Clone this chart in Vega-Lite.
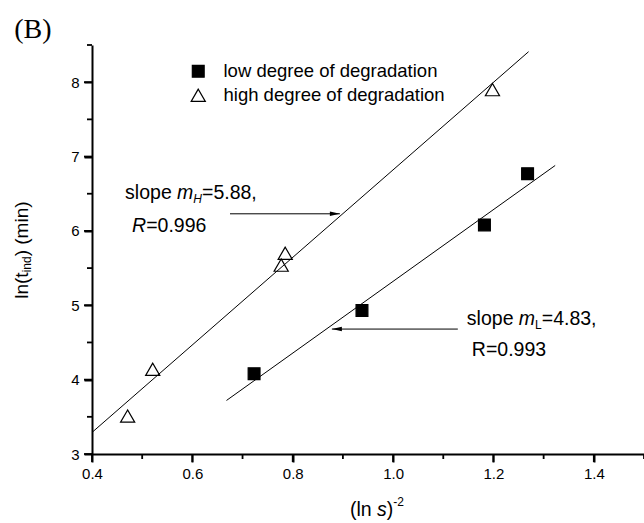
{
  "$schema": "https://vega.github.io/schema/vega-lite/v6.json",
  "width": 552,
  "height": 409,
  "autosize": {"type": "none"},
  "padding": {"left": 92, "top": 45, "right": 0, "bottom": 69},
  "background": "white",
  "config": {
    "view": {"stroke": null},
    "font": "Liberation Sans",
    "axis": {"domainColor": "black", "domainWidth": 2, "labelColor": "black", "labelFont": "Liberation Sans", "labelFontSize": 15, "grid": false, "titleColor": "black"}
  },
  "layer": [
    {
      "data": {"values": [
        {"x": 0.4, "y": 3.29, "series": "high"},
        {"x": 1.27, "y": 8.41, "series": "high"},
        {"x": 0.668, "y": 3.72, "series": "low"},
        {"x": 1.323, "y": 6.88, "series": "low"}
      ]},
      "mark": {"type": "line", "color": "black", "strokeWidth": 1},
      "encoding": {
        "x": {"field": "x", "type": "quantitative", "scale": {"domain": [0.4, 1.5], "nice": false, "zero": false}, "axis": {
          "orient": "bottom", "ticks": true, "tickColor": "#000000", "tickWidth": 2, "tickSize": 8,
          "values": [0.4, 0.6, 0.8, 1.0, 1.2, 1.4],
          "format": ".1f",
          "labelPadding": 4, "title": null, "labelFlush": false, "labelOverlap": false}},
        "y": {"field": "y", "type": "quantitative", "scale": {"domain": [3, 8.5], "nice": false, "zero": false}, "axis": {
          "orient": "left", "ticks": true, "tickColor": "#000000", "tickWidth": 2, "tickSize": 8,
          "values": [3, 4, 5, 6, 7, 8],
          "format": ".0f",
          "labelPadding": 5, "title": null, "labelFlush": false, "labelOverlap": false}},
        "detail": {"field": "series"}
      }
    },
    {
      "data": {"values": [{"v": 0.4}, {"v": 0.6}, {"v": 0.8}, {"v": 1.0}, {"v": 1.2}, {"v": 1.4}]},
      "mark": {"type": "rule", "color": "black", "strokeWidth": 1.8},
      "encoding": {"x": {"field": "v", "type": "quantitative"}, "y": {"datum": 3}, "y2": {"datum": 2.8924}}
    },
    {
      "data": {"values": [{"v": 0.5}, {"v": 0.7}, {"v": 0.9}, {"v": 1.1}, {"v": 1.3}, {"v": 1.5}]},
      "mark": {"type": "rule", "color": "black", "strokeWidth": 1.8},
      "encoding": {"x": {"field": "v", "type": "quantitative"}, "y": {"datum": 3}, "y2": {"datum": 2.9328}}
    },
    {
      "data": {"values": [{"v": 3}, {"v": 4}, {"v": 5}, {"v": 6}, {"v": 7}, {"v": 8}]},
      "mark": {"type": "rule", "color": "black", "strokeWidth": 1.8},
      "encoding": {"y": {"field": "v", "type": "quantitative"}, "x": {"datum": 0.4}, "x2": {"datum": 0.3841}}
    },
    {
      "data": {"values": [{"v": 3.5}, {"v": 4.5}, {"v": 5.5}, {"v": 6.5}, {"v": 7.5}, {"v": 8.5}]},
      "mark": {"type": "rule", "color": "black", "strokeWidth": 1.8},
      "encoding": {"y": {"field": "v", "type": "quantitative"}, "x": {"datum": 0.4}, "x2": {"datum": 0.39}}
    },
    {
      "data": {"values": [
        {"x": 0.723, "y": 4.08, "series": "low degree of degradation"},
        {"x": 0.938, "y": 4.93, "series": "low degree of degradation"},
        {"x": 1.182, "y": 6.08, "series": "low degree of degradation"},
        {"x": 1.268, "y": 6.77, "series": "low degree of degradation"},
        {"x": 0.471, "y": 3.51, "series": "high degree of degradation"},
        {"x": 0.521, "y": 4.14, "series": "high degree of degradation"},
        {"x": 0.777, "y": 5.54, "series": "high degree of degradation"},
        {"x": 0.785, "y": 5.70, "series": "high degree of degradation"},
        {"x": 1.198, "y": 7.90, "series": "high degree of degradation"}
      ]},
      "mark": {"type": "point", "stroke": "black", "strokeWidth": 1.2, "opacity": 1},
      "encoding": {
        "x": {"field": "x", "type": "quantitative"},
        "y": {"field": "y", "type": "quantitative"},
        "shape": {"field": "series", "type": "nominal", "scale": {"domain": ["low degree of degradation", "high degree of degradation"], "range": ["square", "triangle-up"]},
          "legend": {"orient": "none", "legendX": 97, "legendY": 17, "title": null, "labelFontSize": 18.5, "labelFont": "Liberation Sans", "labelColor": "black", "labelLimit": 0, "symbolStrokeColor": "black", "symbolStrokeWidth": 1.2, "rowPadding": 5, "labelOffset": 16, "padding": 0}},
        "fill": {"field": "series", "type": "nominal", "scale": {"domain": ["low degree of degradation", "high degree of degradation"], "range": ["black", "transparent"]}},
        "size": {"field": "series", "type": "nominal", "scale": {"domain": ["low degree of degradation", "high degree of degradation"], "range": [140, 200]}}
      }
    },
    {
      "data": {"values": [{"x": 0.675, "x2": 0.894, "y": 6.23}, {"x": 1.129, "x2": 0.878, "y": 4.68}]},
      "mark": {"type": "rule", "color": "black", "strokeWidth": 1},
      "encoding": {
        "x": {"field": "x", "type": "quantitative"},
        "x2": {"field": "x2"},
        "y": {"field": "y", "type": "quantitative"}
      }
    },
    {
      "data": {"values": [{"x": 0.894, "y": 6.23}]},
      "mark": {"type": "point", "shape": "M0,0L-2,-0.45L-2,0.45Z", "filled": true, "color": "black", "size": 100, "opacity": 1},
      "encoding": {"x": {"field": "x", "type": "quantitative"}, "y": {"field": "y", "type": "quantitative"}}
    },
    {
      "data": {"values": [{"x": 0.878, "y": 4.68}]},
      "mark": {"type": "point", "shape": "M0,0L2,-0.45L2,0.45Z", "filled": true, "color": "black", "size": 100, "opacity": 1},
      "encoding": {"x": {"field": "x", "type": "quantitative"}, "y": {"field": "y", "type": "quantitative"}}
    },
    {
      "data": {"values": [{"x": 0.282, "y": 8.70, "t": "(B)"}]},
      "mark": {"type": "text", "align": "center", "baseline": "middle", "fontSize": 28, "font": "Liberation Serif", "color": "black"},
      "encoding": {"x": {"field": "x", "type": "quantitative"}, "y": {"field": "y", "type": "quantitative"}, "text": {"field": "t"}}
    },
    {
      "data": {"values": [
        {"x": 0.466, "y": 6.51, "t": "slope "},
        {"x": 1.147, "y": 4.815, "t": "slope "}
      ]},
      "mark": {"type": "text", "align": "left", "baseline": "middle", "fontSize": 19.5, "font": "Liberation Sans", "color": "black"},
      "encoding": {"x": {"field": "x", "type": "quantitative"}, "y": {"field": "y", "type": "quantitative"}, "text": {"field": "t"}}
    },
    {
      "data": {"values": [
        {"x": 0.466, "y": 6.51, "t": "m"},
        {"x": 1.147, "y": 4.815, "t": "m"}
      ]},
      "mark": {"type": "text", "align": "left", "baseline": "middle", "fontSize": 19.5, "fontStyle": "italic", "font": "Liberation Sans", "color": "black", "dx": 52},
      "encoding": {"x": {"field": "x", "type": "quantitative"}, "y": {"field": "y", "type": "quantitative"}, "text": {"field": "t"}}
    },
    {
      "data": {"values": [{"x": 0.466, "y": 6.51, "t": "H"}]},
      "mark": {"type": "text", "align": "left", "baseline": "middle", "fontSize": 12, "fontStyle": "italic", "font": "Liberation Sans", "color": "black", "dx": 68.2, "dy": 6},
      "encoding": {"x": {"field": "x", "type": "quantitative"}, "y": {"field": "y", "type": "quantitative"}, "text": {"field": "t"}}
    },
    {
      "data": {"values": [{"x": 1.147, "y": 4.815, "t": "L"}]},
      "mark": {"type": "text", "align": "left", "baseline": "middle", "fontSize": 12, "font": "Liberation Sans", "color": "black", "dx": 68.2, "dy": 6},
      "encoding": {"x": {"field": "x", "type": "quantitative"}, "y": {"field": "y", "type": "quantitative"}, "text": {"field": "t"}}
    },
    {
      "data": {"values": [{"x": 0.466, "y": 6.51, "t": "=5.88,"}]},
      "mark": {"type": "text", "align": "left", "baseline": "middle", "fontSize": 19.5, "font": "Liberation Sans", "color": "black", "dx": 76.9},
      "encoding": {"x": {"field": "x", "type": "quantitative"}, "y": {"field": "y", "type": "quantitative"}, "text": {"field": "t"}}
    },
    {
      "data": {"values": [{"x": 1.147, "y": 4.815, "t": "=4.83,"}]},
      "mark": {"type": "text", "align": "left", "baseline": "middle", "fontSize": 19.5, "font": "Liberation Sans", "color": "black", "dx": 74.9},
      "encoding": {"x": {"field": "x", "type": "quantitative"}, "y": {"field": "y", "type": "quantitative"}, "text": {"field": "t"}}
    },
    {
      "data": {"values": [{"x": 0.466, "y": 6.07, "t": "R"}]},
      "mark": {"type": "text", "align": "left", "baseline": "middle", "fontSize": 19.5, "fontStyle": "italic", "font": "Liberation Sans", "color": "black", "dx": 7},
      "encoding": {"x": {"field": "x", "type": "quantitative"}, "y": {"field": "y", "type": "quantitative"}, "text": {"field": "t"}}
    },
    {
      "data": {"values": [{"x": 0.466, "y": 6.07, "t": "=0.996"}]},
      "mark": {"type": "text", "align": "left", "baseline": "middle", "fontSize": 19.5, "font": "Liberation Sans", "color": "black", "dx": 21.1},
      "encoding": {"x": {"field": "x", "type": "quantitative"}, "y": {"field": "y", "type": "quantitative"}, "text": {"field": "t"}}
    },
    {
      "data": {"values": [{"x": 1.147, "y": 4.40, "t": "R=0.993"}]},
      "mark": {"type": "text", "align": "left", "baseline": "middle", "fontSize": 19.5, "font": "Liberation Sans", "color": "black", "dx": 5},
      "encoding": {"x": {"field": "x", "type": "quantitative"}, "y": {"field": "y", "type": "quantitative"}, "text": {"field": "t"}}
    },
    {
      "data": {"values": [{"x": 0.261, "y": 5.74, "t": "ln(t"}]},
      "mark": {"type": "text", "align": "left", "baseline": "middle", "angle": 270, "fontSize": 19, "font": "Liberation Sans", "color": "black", "dx": -48.5},
      "encoding": {"x": {"field": "x", "type": "quantitative"}, "y": {"field": "y", "type": "quantitative"}, "text": {"field": "t"}}
    },
    {
      "data": {"values": [{"x": 0.261, "y": 5.74, "t": "ind"}]},
      "mark": {"type": "text", "align": "left", "baseline": "middle", "angle": 270, "fontSize": 12, "font": "Liberation Sans", "color": "black", "dx": -22.1, "dy": 5},
      "encoding": {"x": {"field": "x", "type": "quantitative"}, "y": {"field": "y", "type": "quantitative"}, "text": {"field": "t"}}
    },
    {
      "data": {"values": [{"x": 0.261, "y": 5.74, "t": ") (min)"}]},
      "mark": {"type": "text", "align": "left", "baseline": "middle", "angle": 270, "fontSize": 19, "font": "Liberation Sans", "color": "black", "dx": -6.1},
      "encoding": {"x": {"field": "x", "type": "quantitative"}, "y": {"field": "y", "type": "quantitative"}, "text": {"field": "t"}}
    },
    {
      "data": {"values": [{"x": 0.914, "y": 2.247, "t": "(ln "}]},
      "mark": {"type": "text", "align": "left", "baseline": "middle", "fontSize": 19.5, "font": "Liberation Sans", "color": "black"},
      "encoding": {"x": {"field": "x", "type": "quantitative"}, "y": {"field": "y", "type": "quantitative"}, "text": {"field": "t"}}
    },
    {
      "data": {"values": [{"x": 0.914, "y": 2.247, "t": "s"}]},
      "mark": {"type": "text", "align": "left", "baseline": "middle", "fontSize": 19.5, "fontStyle": "italic", "font": "Liberation Sans", "color": "black", "dx": 27.1},
      "encoding": {"x": {"field": "x", "type": "quantitative"}, "y": {"field": "y", "type": "quantitative"}, "text": {"field": "t"}}
    },
    {
      "data": {"values": [{"x": 0.914, "y": 2.247, "t": ")"}]},
      "mark": {"type": "text", "align": "left", "baseline": "middle", "fontSize": 19.5, "font": "Liberation Sans", "color": "black", "dx": 36.9},
      "encoding": {"x": {"field": "x", "type": "quantitative"}, "y": {"field": "y", "type": "quantitative"}, "text": {"field": "t"}}
    },
    {
      "data": {"values": [{"x": 0.914, "y": 2.247, "t": "-2"}]},
      "mark": {"type": "text", "align": "left", "baseline": "middle", "fontSize": 12, "font": "Liberation Sans", "color": "black", "dx": 43.4, "dy": -8},
      "encoding": {"x": {"field": "x", "type": "quantitative"}, "y": {"field": "y", "type": "quantitative"}, "text": {"field": "t"}}
    }
  ]
}
